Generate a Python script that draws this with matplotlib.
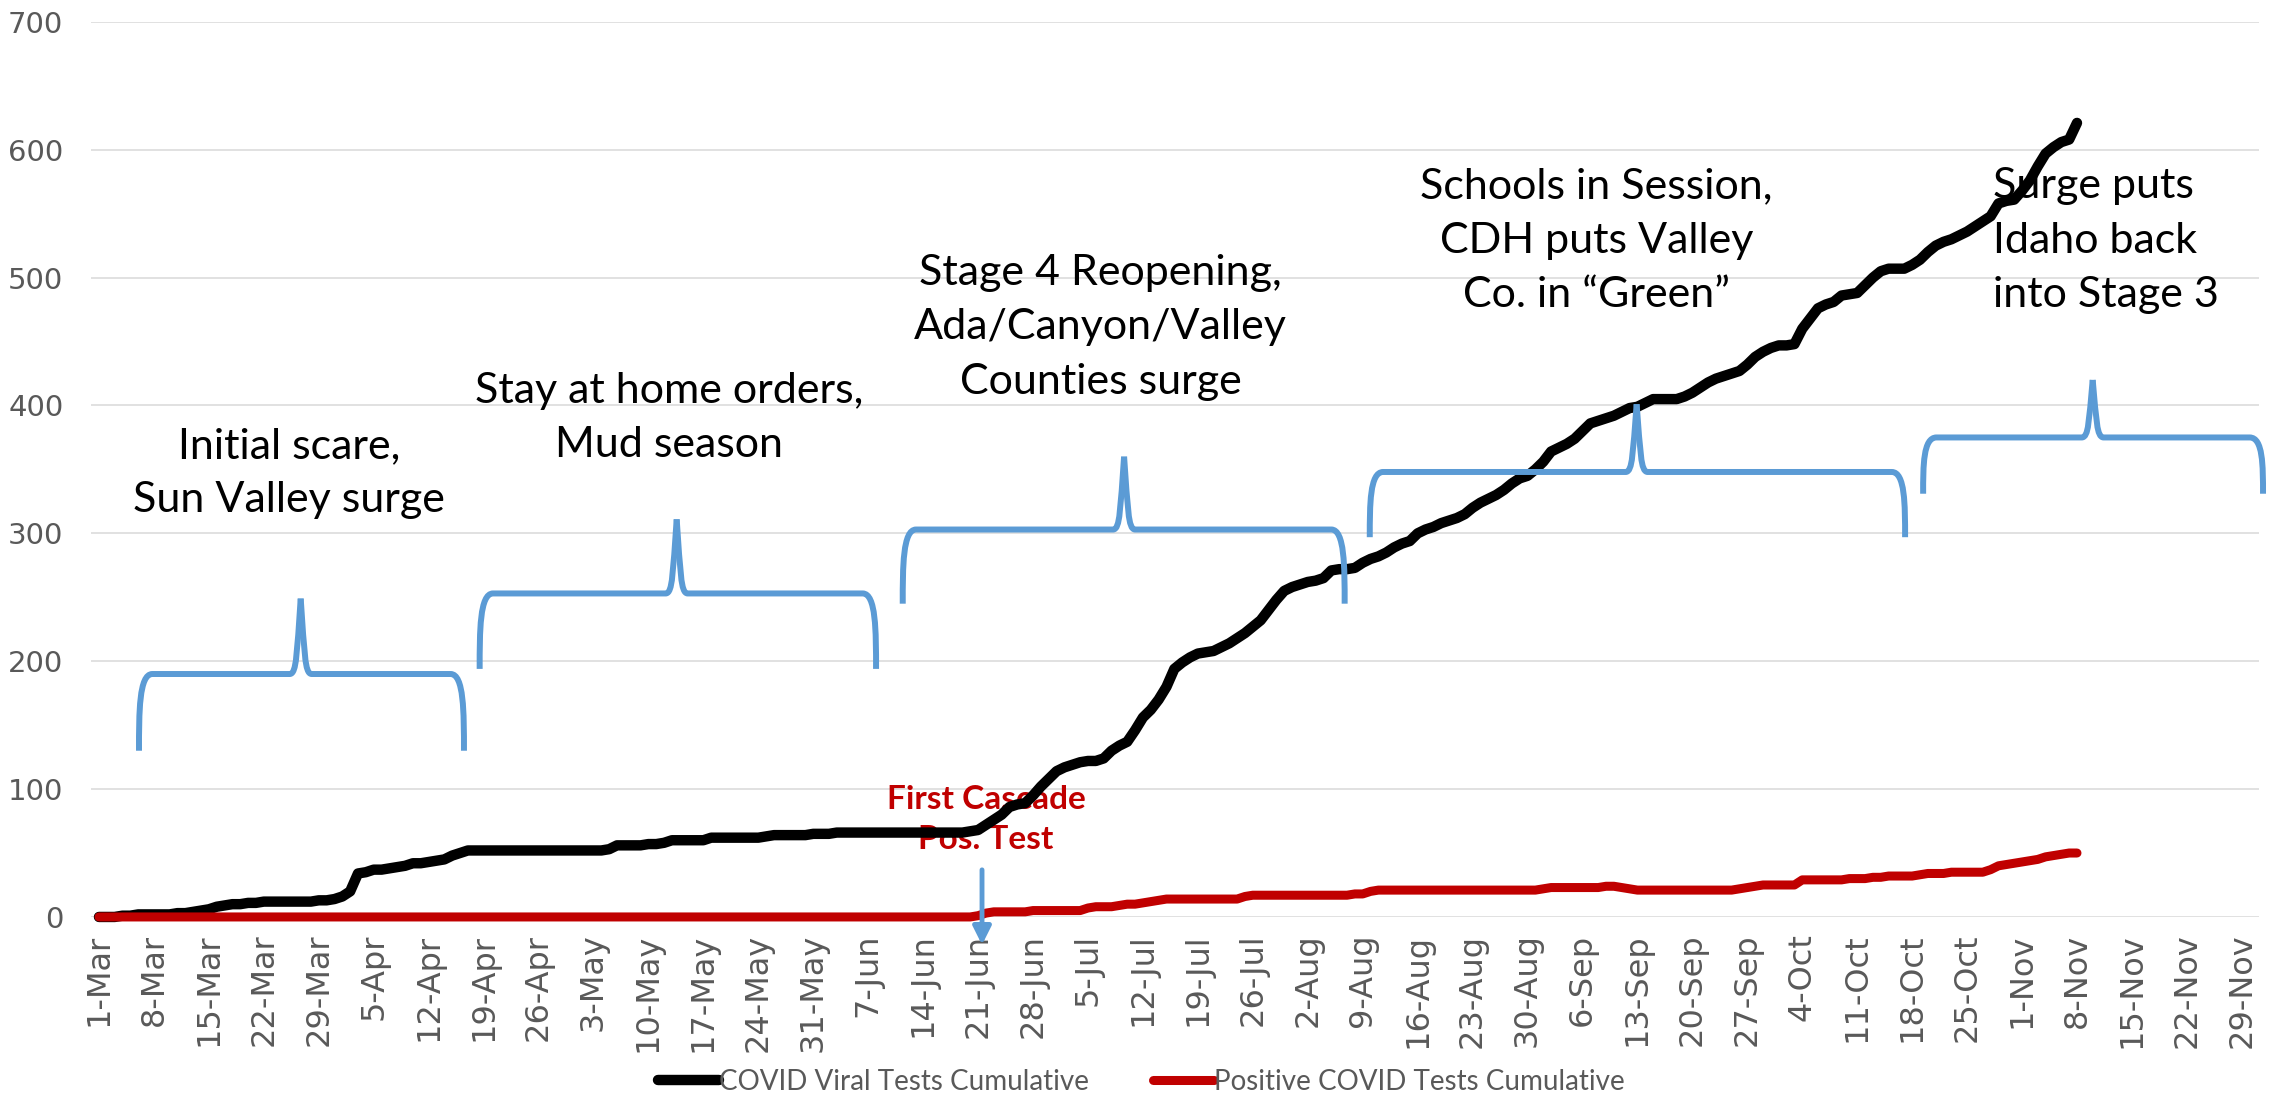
import matplotlib.pyplot as plt
from matplotlib.path import Path
from matplotlib.patches import PathPatch
import numpy as np

# x axis labels, one every 7 days starting 1-Mar
tick_labels = ["1-Mar", "8-Mar", "15-Mar", "22-Mar", "29-Mar", "5-Apr", "12-Apr",
               "19-Apr", "26-Apr", "3-May", "10-May", "17-May", "24-May", "31-May",
               "7-Jun", "14-Jun", "21-Jun", "28-Jun", "5-Jul", "12-Jul", "19-Jul",
               "26-Jul", "2-Aug", "9-Aug", "16-Aug", "23-Aug", "30-Aug", "6-Sep",
               "13-Sep", "20-Sep", "27-Sep", "4-Oct", "11-Oct", "18-Oct", "25-Oct",
               "1-Nov", "8-Nov", "15-Nov", "22-Nov", "29-Nov"]

# daily cumulative values from 1-Mar to 8-Nov (one row per week)
viral_tests = [
    0, 0, 0, 1, 1, 2, 2,
    2, 2, 2, 3, 3, 4, 5,
    6, 8, 9, 10, 10, 11, 11,
    12, 12, 12, 12, 12, 12, 12,
    13, 13, 14, 16, 20, 34, 35,
    37, 37, 38, 39, 40, 42, 42,
    43, 44, 45, 48, 50, 52, 52,
    52, 52, 52, 52, 52, 52, 52,
    52, 52, 52, 52, 52, 52, 52,
    52, 52, 53, 56, 56, 56, 56,
    57, 57, 58, 60, 60, 60, 60,
    60, 62, 62, 62, 62, 62, 62,
    62, 63, 64, 64, 64, 64, 64,
    65, 65, 65, 66, 66, 66, 66,
    66, 66, 66, 66, 66, 66, 66,
    66, 66, 66, 66, 66, 66, 67,
    68, 72, 76, 80, 86, 88, 89,
    95, 102, 108, 114, 117, 119, 121,
    122, 122, 124, 130, 134, 137, 146,
    156, 162, 170, 180, 194, 199, 203,
    206, 207, 208, 211, 214, 218, 222,
    227, 232, 240, 248, 255, 258, 260,
    262, 263, 265, 271, 272, 272, 273,
    277, 280, 282, 285, 289, 292, 294,
    300, 303, 305, 308, 310, 312, 315,
    320, 324, 327, 330, 334, 339, 343,
    345, 350, 356, 364, 367, 370, 374,
    380, 386, 388, 390, 392, 395, 398,
    399, 402, 405, 405, 405, 405, 407,
    410, 414, 418, 421, 423, 425, 427,
    432, 438, 442, 445, 447, 447, 448,
    460, 468, 476, 479, 481, 486, 487,
    488, 494, 500, 505, 507, 507, 507,
    510, 514, 520, 525, 528, 530, 533,
    536, 540, 544, 548, 558, 560, 561,
    568, 576, 587, 597, 602, 606, 608,
    621]

positive_tests = [
    0, 0, 0, 0, 0, 0, 0,
    0, 0, 0, 0, 0, 0, 0,
    0, 0, 0, 0, 0, 0, 0,
    0, 0, 0, 0, 0, 0, 0,
    0, 0, 0, 0, 0, 0, 0,
    0, 0, 0, 0, 0, 0, 0,
    0, 0, 0, 0, 0, 0, 0,
    0, 0, 0, 0, 0, 0, 0,
    0, 0, 0, 0, 0, 0, 0,
    0, 0, 0, 0, 0, 0, 0,
    0, 0, 0, 0, 0, 0, 0,
    0, 0, 0, 0, 0, 0, 0,
    0, 0, 0, 0, 0, 0, 0,
    0, 0, 0, 0, 0, 0, 0,
    0, 0, 0, 0, 0, 0, 0,
    0, 0, 0, 0, 0, 0, 0,
    1, 3, 4, 4, 4, 4, 4,
    5, 5, 5, 5, 5, 5, 5,
    7, 8, 8, 8, 9, 10, 10,
    11, 12, 13, 14, 14, 14, 14,
    14, 14, 14, 14, 14, 14, 16,
    17, 17, 17, 17, 17, 17, 17,
    17, 17, 17, 17, 17, 17, 18,
    18, 20, 21, 21, 21, 21, 21,
    21, 21, 21, 21, 21, 21, 21,
    21, 21, 21, 21, 21, 21, 21,
    21, 21, 22, 23, 23, 23, 23,
    23, 23, 23, 24, 24, 23, 22,
    21, 21, 21, 21, 21, 21, 21,
    21, 21, 21, 21, 21, 21, 22,
    23, 24, 25, 25, 25, 25, 25,
    29, 29, 29, 29, 29, 29, 30,
    30, 30, 31, 31, 32, 32, 32,
    32, 33, 34, 34, 34, 35, 35,
    35, 35, 35, 37, 40, 41, 42,
    43, 44, 45, 47, 48, 49, 50,
    50]

# curly braces: left end, right end, tip (days) / bottom, level, tip (values)
brace_left = [5.1, 48.5, 102.4, 161.9, 232.4]
brace_right = [46.5, 99.0, 158.7, 230.1, 275.7]
brace_tip_x = [25.7, 73.6, 130.6, 195.9, 254.0]
brace_bottom = [130, 194, 245, 297, 331]
brace_level = [190, 253, 303, 348, 375]
brace_tip_y = [249, 311, 360, 401, 420]

notes = ["Initial scare,\nSun Valley surge",
         "Stay at home orders,\nMud season",
         "Stage 4 Reopening,\nAda/Canyon/Valley\nCounties surge",
         "Schools in Session,\nCDH puts Valley\nCo. in \u201cGreen\u201d",
         "Surge puts\nIdaho back\ninto Stage 3"]
note_x = [24.2, 72.6, 127.6, 190.8, 241.3]
note_y = [347, 390, 461, 529, 529]
note_align = ["center", "center", "center", "center", "left"]

BLUE = "#5B9BD5"
GREY = "#595959"


def draw_brace(ax, x0, x1, xt, yb, yh, yt, d_end=1.7, d_tip=1.4):
    h = yh - yb
    for side in (-1, 1):
        xe = x0 if side == -1 else x1
        s = -side  # direction from the end towards the tip
        verts = [(xe, yb), (xe, yb + 0.5 * h), (xe, yh), (xe + s * d_end, yh),
                 (xt - s * d_tip, yh), (xt - s * 0.35 * d_tip, yh),
                 (xt - s * 0.35 * d_tip, yh + 0.3 * (yt - yh)), (xt, yt)]
        codes = [Path.MOVETO, Path.CURVE4, Path.CURVE4, Path.CURVE4,
                 Path.LINETO, Path.CURVE4, Path.CURVE4, Path.CURVE4]
        patch = PathPatch(Path(verts, codes), facecolor="none", edgecolor=BLUE,
                          lw=4.3, capstyle="butt", joinstyle="round",
                          zorder=5, clip_on=False)
        ax.add_patch(patch)


fig = plt.figure(figsize=(22.78, 10.95), dpi=100)
ax = fig.add_axes([0.04, 0.1626, 0.9517, 0.8174])

days = np.arange(len(viral_tests))
ax.plot(days, viral_tests, color="black", lw=7.5, solid_capstyle="round",
        solid_joinstyle="round", clip_on=False, zorder=3,
        label="COVID Viral Tests Cumulative")
ax.plot(days, positive_tests, color="#C00000", lw=6.5, solid_capstyle="round",
        solid_joinstyle="round", clip_on=False, zorder=3.5,
        label="Positive COVID Tests Cumulative")

for i in range(len(brace_left)):
    draw_brace(ax, brace_left[i], brace_right[i], brace_tip_x[i],
               brace_bottom[i], brace_level[i], brace_tip_y[i])

for i in range(len(notes)):
    ax.text(note_x[i], note_y[i], notes[i], ha=note_align[i], va="center",
            multialignment=note_align[i], fontsize=31, family="Lato",
            linespacing=1.52, color="black", zorder=1)

ax.text(113, 76, "First Cascade\nPos. Test", ha="center", va="center",
        fontsize=24, family="Lato", fontweight="bold", color="#C00000",
        linespacing=1.45, zorder=1)
ax.annotate("", xy=(112.5, -24), xytext=(112.5, 39),
            arrowprops=dict(arrowstyle="-|>", color=BLUE, lw=3.5, mutation_scale=27),
            annotation_clip=False, zorder=6)

ax.set_xlim(-1.0, 275.2)
ax.set_ylim(0, 700)
ax.set_yticks(range(0, 701, 100))
ax.set_xticks(np.arange(len(tick_labels)) * 7)
ax.set_xticklabels(tick_labels, rotation=90)
ax.tick_params(axis="both", length=0, colors=GREY)
ax.tick_params(axis="y", pad=20, labelsize=21)
ax.tick_params(axis="x", pad=12, labelsize=23)
ax.grid(axis="y", color="#D9D9D9", lw=1.1)
ax.set_axisbelow(True)
for spine in ax.spines.values():
    spine.set_visible(False)

fig.legend(loc="center", bbox_to_anchor=(0.501, 0.012), ncol=2, frameon=False,
           handlelength=2.2, handletextpad=0.0, columnspacing=2.3,
           prop={"family": ["Liberation Sans Narrow", "Lato"], "size": 20},
           labelcolor=GREY)

fig.savefig("out.png", dpi=100)
